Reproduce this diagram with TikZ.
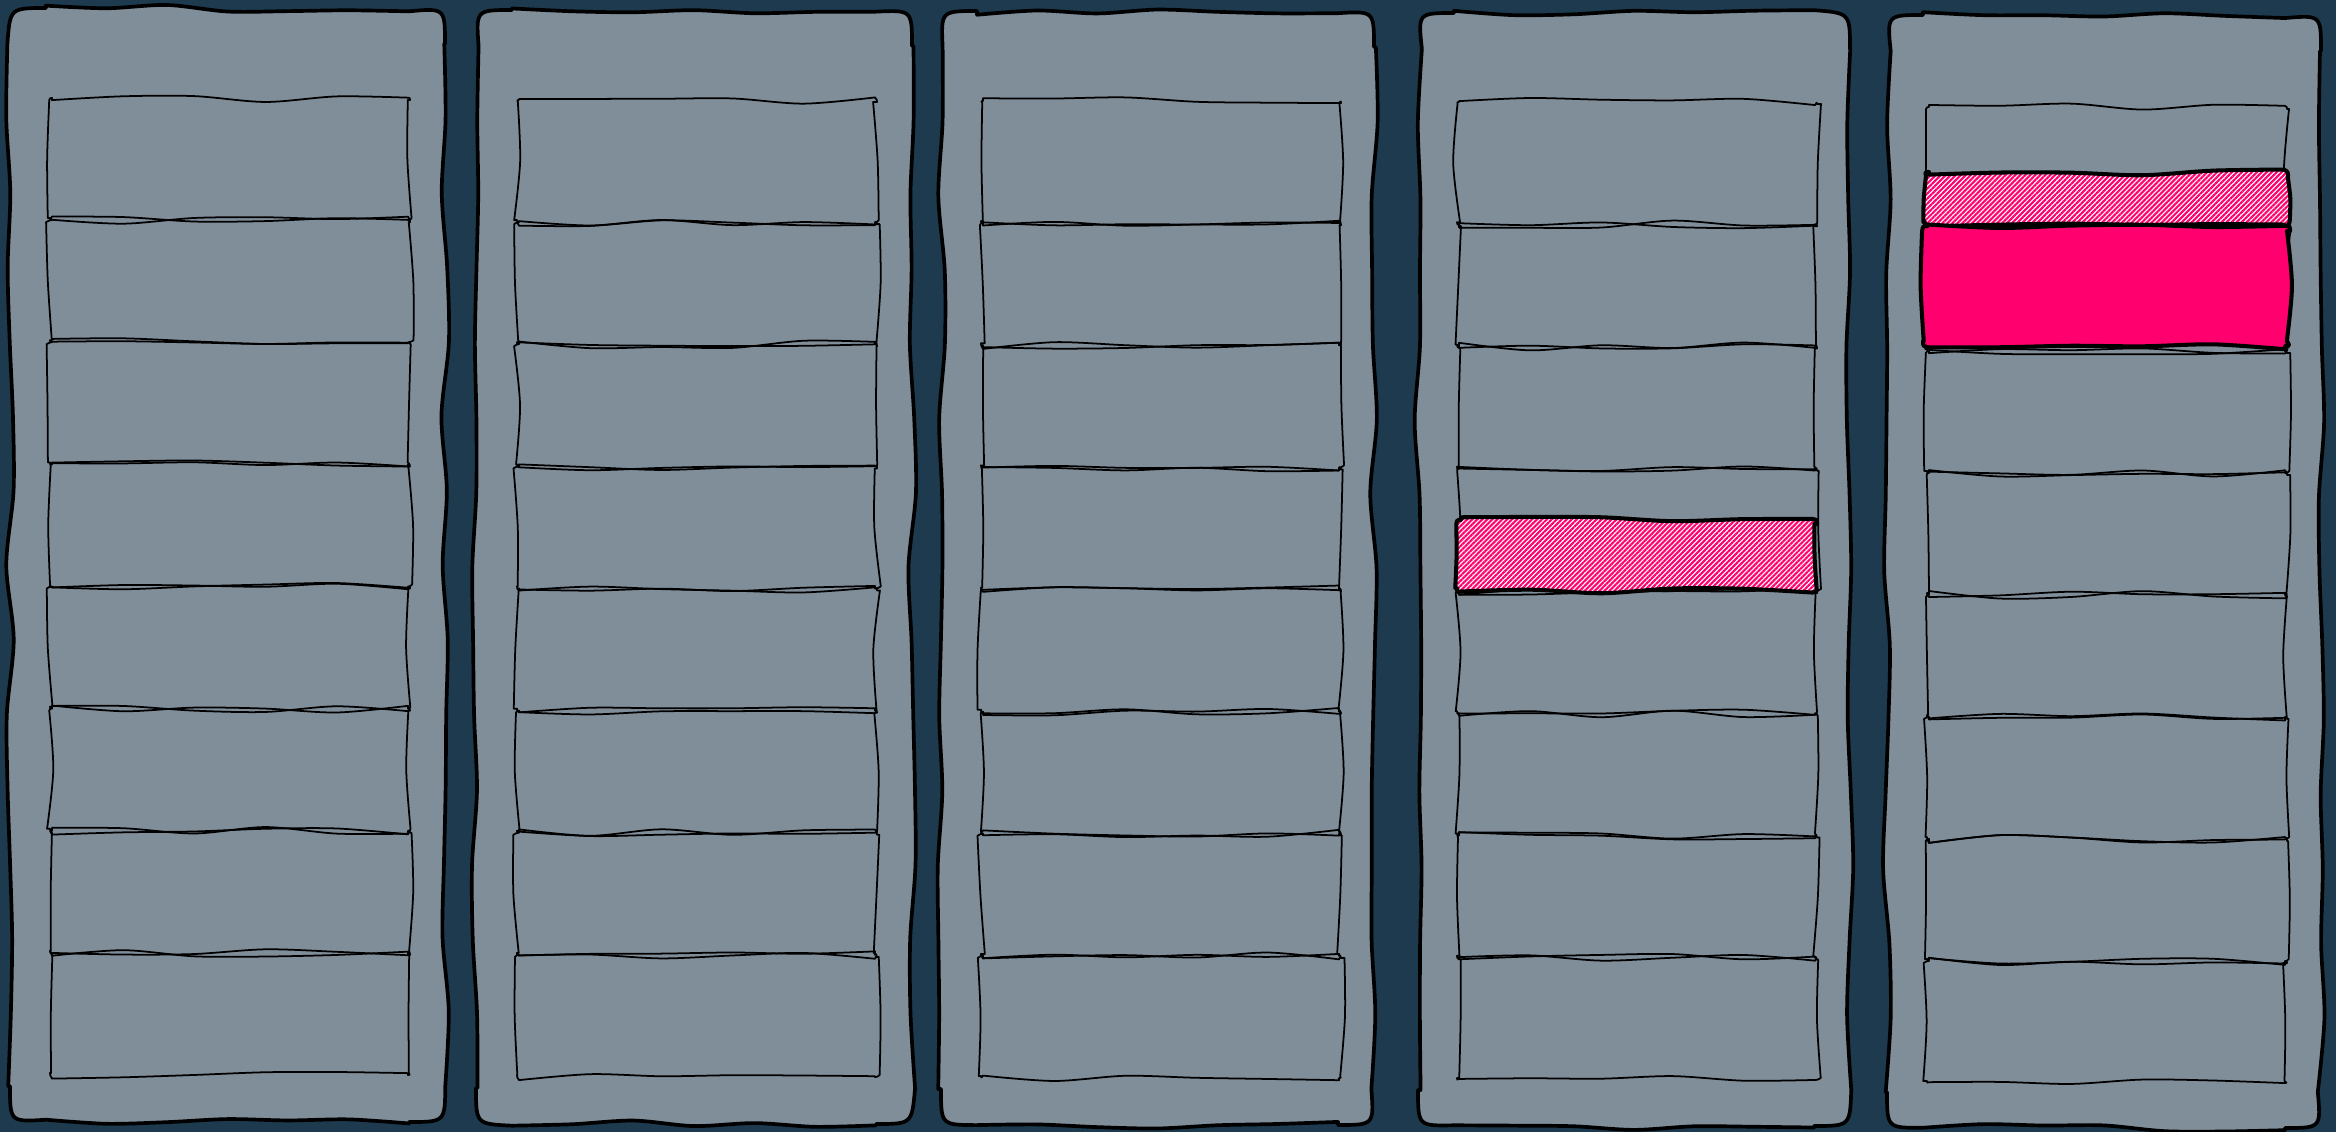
\documentclass[tikz,border=0pt]{standalone}
\usetikzlibrary{patterns.meta}
\definecolor{bgc}{HTML}{1D3A4E}
\definecolor{colgrey}{HTML}{7F8E99}
\definecolor{hotpink}{HTML}{FF006E}
\tikzset{
  colbox/.style={fill=colgrey, draw=black, line width=2.1pt, line join=round},
  rowbox/.style={draw=black, line width=1pt, line join=round},
  dropzone/.style={draw=black, line width=2.3pt, line join=round, preaction={fill=white}, pattern={Lines[angle=45,distance=2pt,line width=1.2pt]}, pattern color=hotpink},
  placed/.style={draw=black, fill=hotpink, line width=2.3pt, line join=round},
}
% #1 x1, #2 y1, #3 x2, #4 y2, #5 corner radius, #6 wobble amplitude, #7 style
\newcommand\sketchbox[7]{%
  \pgfmathtruncatemacro\nh{max(3,round(abs(#3-#1)/72)+1)}%
  \pgfmathtruncatemacro\nv{max(3,round(abs(#4-#2)/80)+1)}%
  \draw[#7]
    plot[smooth,variable=\t,samples=\nh,domain=0:1] ({#1+#5+\t*(#3-#1-2*#5)},{#2+#6*rand})
    .. controls (#3,#2) .. ({#3},{#2+#5})
    -- plot[smooth,variable=\t,samples=\nv,domain=0:1] ({#3+#6*rand},{#2+#5+\t*(#4-#2-2*#5)})
    .. controls (#3,#4) .. ({#3-#5},{#4})
    -- plot[smooth,variable=\t,samples=\nh,domain=0:1] ({#3-#5-\t*(#3-#1-2*#5)},{#4+#6*rand})
    .. controls (#1,#4) .. ({#1},{#4-#5})
    -- plot[smooth,variable=\t,samples=\nv,domain=0:1] ({#1+#6*rand},{#4-#5-\t*(#4-#2-2*#5)})
    .. controls (#1,#2) .. ({#1+#5},{#2}) -- cycle;%
}
\begin{document}
\begin{tikzpicture}[x=0.02cm,y=-0.02cm]
\pgfmathsetseed{42}
\fill[bgc] (0,0) rectangle (2336,1132);
\useasboundingbox (0,0) rectangle (2336,1132);
\foreach \oL/\oR/\oT/\oB/\iL/\iR/\iT/\iB in {10/445/8/1122/50/410/98/1075, 476/912/10/1124/517/877/100/1077, 941/1374/11/1125/981/1341/101/1078, 1418/1850/13/1126/1457/1817/102/1080, 1887/2321/15/1128/1927/2287/107/1083}{
  \sketchbox{\oL}{\oT}{\oR}{\oB}{36}{4}{colbox}
  \pgfmathsetmacro\rh{(\iB-\iT)/8}
  \foreach \k in {0,...,7}{
    \pgfmathsetmacro\ya{\iT+\k*\rh}
    \pgfmathsetmacro\yb{\ya+\rh}
    \sketchbox{\iL}{\ya}{\iR}{\yb}{2}{4}{rowbox}
  }
}
\sketchbox{1457}{520}{1817}{592}{4}{3.5}{dropzone}
\sketchbox{1925}{172}{2288}{226}{4}{3.5}{dropzone}
\sketchbox{1923}{226}{2290}{346}{5}{3.5}{placed}
\end{tikzpicture}
\end{document}
